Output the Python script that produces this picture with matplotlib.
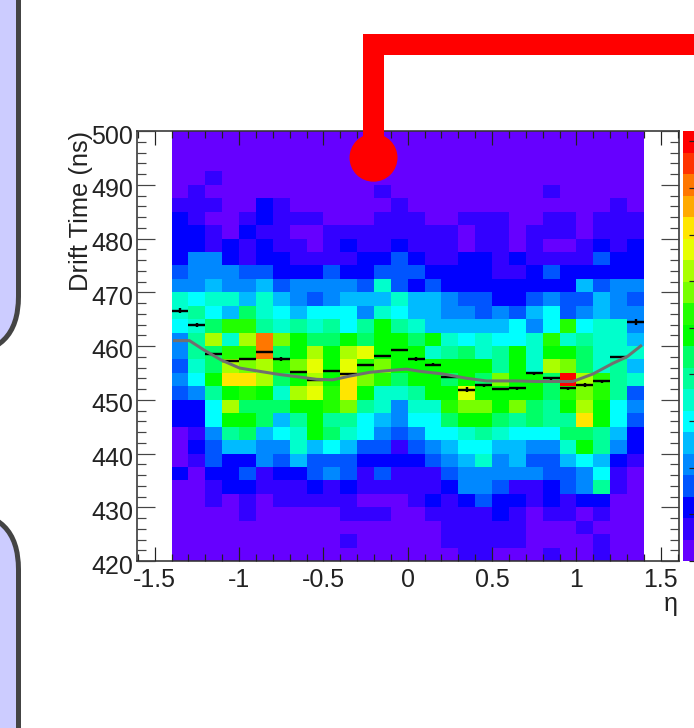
"""
Drift time vs eta, 2D histogram with profile and fit curve (ROOT style)
"""
import matplotlib
matplotlib.use("Agg")
import matplotlib.pyplot as plt
import numpy as np
from matplotlib.colors import ListedColormap
from matplotlib.patches import Circle, FancyBboxPatch, Rectangle
from matplotlib.ticker import MultipleLocator
from matplotlib.transforms import ScaledTranslation

plt.rcParams['font.family'] = ['Liberation Sans', 'DejaVu Sans']

PX = 72 / 100  # one pixel in points at dpi 100

palette = ['#6600FF', '#3300FF', '#0000FF', '#0055FF', '#0088FF', '#00BBFF', '#00FFFF',
           '#00FFCC', '#00FF99', '#00FF66', '#00FF00', '#22FF00', '#77FF00', '#AAFF00',
           '#E6FF00', '#FFE600', '#FFAA00', '#FF7700', '#FF3300', '#FF0000']

eta_edges = np.arange(-14, 15) / 10
time_edges = np.arange(420, 502.5, 2.5)
zmax = 46.1
z_ticks = [0, 5, 10, 15, 20, 25, 30, 35, 40, 45]

# colour level of every cell, top row (500 ns) first
levels = [
    [0]*28,
    [0]*28,
    [0]*28,
    [0,0,1,0,0,0,0,0,0,0,0,0,0,0,0,0,0,0,0,0,0,0,0,0,0,0,0,0],
    [0,1,0,0,0,0,0,0,0,0,0,0,1,0,0,0,0,0,0,0,0,0,1,0,0,0,0,0],
    [1,1,1,0,0,2,1,0,0,0,0,0,0,1,0,0,0,0,0,0,0,0,0,0,0,0,1,0],
    [2,1,0,0,1,2,1,1,1,0,0,0,1,1,1,0,0,1,1,1,0,0,1,1,0,1,1,1],
    [2,2,1,0,2,1,1,0,0,1,1,1,1,1,1,1,1,0,1,1,0,1,1,1,0,1,1,1],
    [2,2,1,2,1,2,1,1,0,1,2,1,1,2,1,1,1,0,1,1,0,1,0,0,1,2,1,2],
    [2,4,4,2,1,2,2,1,1,1,1,2,2,3,2,1,1,2,2,1,2,1,1,1,1,3,2,2],
    [3,4,4,4,3,3,2,2,2,3,2,2,3,3,3,2,2,2,2,1,1,2,3,2,2,2,2,2],
    [4,4,5,4,4,5,3,4,4,4,4,3,7,3,2,3,2,2,2,2,2,2,2,2,5,3,4,4],
    [7,6,7,7,5,7,5,4,3,4,5,5,5,7,5,5,4,3,3,2,2,3,4,3,3,5,4,3],
    [7,8,6,5,9,7,6,5,6,6,6,4,7,6,5,5,4,4,3,4,3,5,6,3,4,5,4,4],
    [6,7,9,11,11,8,7,8,7,8,6,8,10,8,7,5,5,5,5,5,6,4,6,11,6,7,7,4],
    [4,8,13,7,13,17,12,10,9,9,10,9,10,10,9,10,7,6,7,6,6,7,11,7,8,7,7,5],
    [4,8,9,11,11,17,9,10,13,10,13,14,10,10,10,7,8,9,7,8,10,7,10,10,9,7,7,7],
    [3,7,9,13,12,13,11,12,14,10,14,11,12,10,10,10,10,10,10,8,10,7,13,12,9,7,8,5],
    [4,6,10,15,15,13,9,10,13,10,15,12,11,9,10,10,9,10,9,12,10,10,9,19,13,11,8,7],
    [3,4,8,10,11,10,7,13,14,11,15,10,7,7,8,10,10,14,10,10,10,10,9,11,12,11,8,3],
    [2,2,6,13,9,9,9,10,10,11,12,8,7,4,7,7,11,12,12,10,12,9,8,10,13,10,6,4],
    [2,2,6,10,10,9,5,8,10,8,8,6,5,4,6,6,9,10,10,9,8,9,8,8,15,10,6,3],
    [0,1,4,8,9,5,6,7,10,9,7,6,4,3,4,6,6,7,8,7,6,6,6,9,9,8,5,2],
    [0,2,3,5,5,4,4,7,5,6,5,3,3,1,3,4,5,6,6,5,5,4,4,7,10,8,4,2],
    [0,1,3,2,2,4,3,5,3,3,3,2,2,2,2,3,4,5,7,4,5,3,3,5,6,5,2,1],
    [2,0,2,2,3,1,2,2,3,4,3,1,3,1,1,1,3,4,4,4,4,4,3,3,4,6,1,0],
    [0,0,1,2,2,1,1,1,2,1,2,1,1,1,1,1,2,4,4,3,1,1,2,3,4,8,1,0],
    [0,0,1,0,1,0,1,1,1,1,1,0,0,0,1,2,1,2,3,2,2,1,2,1,2,2,0,0],
    [0,0,0,0,1,0,0,0,0,0,1,1,1,0,0,1,1,1,1,2,1,0,1,1,0,1,0,0],
    [0,0,0,0,0,0,0,0,0,0,0,0,0,0,0,0,1,1,1,1,1,0,0,0,1,0,0,0],
    [0,0,0,0,0,0,0,0,0,0,1,0,0,0,0,0,1,1,1,1,1,0,0,0,0,1,0,0],
    [0,0,0,0,0,0,0,0,0,0,0,0,0,0,0,0,0,1,1,0,0,0,1,0,0,1,0,0],
]

# profile points, one per eta bin
profile_time = [466.6, 463.9, 458.5, 457.2, 457.6, 458.9, 457.6, 455.1, 453.7, 455.4,
                454.7, 456.5, 458.1, 459.2, 457.6, 456.5, 454.3, 451.9, 452.7, 452.0,
                452.1, 454.9, 454.0, 452.1, 452.7, 453.4, 457.9, 464.5]
profile_err = [0.4, 0.3, 0.2, 0.2, 0.2, 0.2, 0.3, 0.2, 0.2, 0.2,
               0.2, 0.2, 0.2, 0.2, 0.3, 0.3, 0.2, 0.4, 0.3, 0.2,
               0.2, 0.3, 0.3, 0.2, 0.4, 0.2, 0.2, 0.5]

# grey curve
curve_eta = [-1.383, -1.294, -1.205, -1.106, -0.997, -0.861, -0.76, -0.66, -0.54, -0.445,
             -0.344, -0.226, -0.126, -0.008, 0.071, 0.208, 0.348, 0.467, 0.645, 0.764,
             0.979, 1.098, 1.217, 1.3, 1.381]
curve_time = [461.0, 461.0, 459.2, 457.4, 455.9, 455.2, 454.7, 454.3, 453.8, 453.7,
              454.4, 455.1, 455.4, 455.7, 455.3, 454.8, 454.0, 453.5, 453.5, 453.4,
              453.4, 454.8, 456.8, 458.0, 460.0]

W, H = 694, 728
fig = plt.figure(figsize=(W / 100, H / 100), dpi=100)


def px_axes(x0, y0, x1, y1):
    return fig.add_axes([x0 / W, 1 - y1 / H, (x1 - x0) / W, (y1 - y0) / H])


cmap = ListedColormap(palette)

ax = px_axes(137.3, 131, 678.7, 561)
ax.pcolormesh(eta_edges, time_edges, np.array(levels)[::-1] + 0.5, cmap=cmap, vmin=0, vmax=20)
eta_centers = (eta_edges[:-1] + eta_edges[1:]) / 2
ax.errorbar(eta_centers, profile_time, xerr=0.05, yerr=profile_err, fmt='none',
            ecolor='black', elinewidth=2.4 * PX, capsize=0, zorder=3)
ax.plot(curve_eta, curve_time, color='#707070', lw=3 * PX, zorder=4)

ax.set_xlim(-1.603, 1.606)
ax.set_ylim(420, 500)
ax.xaxis.set_major_locator(MultipleLocator(0.5))
ax.xaxis.set_minor_locator(MultipleLocator(0.1))
ax.yaxis.set_major_locator(MultipleLocator(10))
ax.yaxis.set_minor_locator(MultipleLocator(2))
ax.set_xticks([-1.5, -1, -0.5, 0, 0.5, 1, 1.5])
ax.set_xticklabels(['-1.5', '-1', '-0.5', '0', '0.5', '1', '1.5'])
ax.tick_params(axis='x', which='major', direction='in', top=True, length=14 * PX,
               width=1.2 * PX, labelsize=18, pad=5, color='#222222', labelcolor='#222222')
ax.tick_params(axis='x', which='minor', direction='in', top=True, length=7 * PX,
               width=1.2 * PX, color='#222222')
ax.tick_params(axis='y', which='major', direction='in', right=True, length=18 * PX,
               width=1.2 * PX, labelsize=18, pad=3, color='#444444', labelcolor='#222222')
ax.tick_params(axis='y', which='minor', direction='in', right=True, length=9 * PX,
               width=1.2 * PX, color='#444444')
# y labels sit a little below their ticks in the original
shift_down = ScaledTranslation(0, -3 / 100, fig.dpi_scale_trans)
for label in ax.get_yticklabels():
    label.set_transform(label.get_transform() + shift_down)
for spine in ax.spines.values():
    spine.set_linewidth(1.6 * PX)
    spine.set_color('#333333')
ax.set_axisbelow(False)

fig.text(81 / W, 1 - 131 / H, 'Drift Time (ns)', rotation=90, ha='center', va='top',
         fontsize=18.4, color='#222222')
fig.text(678 / W, 1 - 604 / H, 'η', ha='right', va='center', fontsize=18, color='#222222')

# colour scale, runs off the right edge of the picture
cax = px_axes(683, 131, 694, 561)
z_edges = np.linspace(0, zmax, len(palette) + 1)
cax.pcolormesh([0, 1], z_edges, (np.arange(len(palette)) + 0.5).reshape(-1, 1),
               cmap=cmap, vmin=0, vmax=20)
cax.set_ylim(0, zmax)
cax.set_xticks([])
cax.set_yticks(z_ticks)
cax.tick_params(axis='y', direction='in', left=False, right=True, labelleft=False,
                length=5 * PX, width=1.2 * PX, color='#222222')
for spine in cax.spines.values():
    spine.set_visible(False)

# slide decorations: side panels and red connector
over = fig.add_axes([0, 0, 1, 1], zorder=10)
over.set_xlim(0, W)
over.set_ylim(H, 0)
over.axis('off')
over.patch.set_alpha(0)

for top, bottom in [(-200, 354), (512, 900)]:
    over.add_patch(FancyBboxPatch((-200, top), 218.5, bottom - top,
                                  boxstyle='round,pad=0,rounding_size=57.5',
                                  facecolor='#CCCCFF', edgecolor='#444444', lw=5 * PX))

over.add_patch(Rectangle((363, 34), 21, 124, facecolor='#FF0000', edgecolor='none'))
over.add_patch(Rectangle((363, 34), 340, 21, facecolor='#FF0000', edgecolor='none'))
over.add_patch(Circle((373.5, 157.7), 24, facecolor='#FF0000', edgecolor='none'))

fig.savefig('out.png', dpi=100)
